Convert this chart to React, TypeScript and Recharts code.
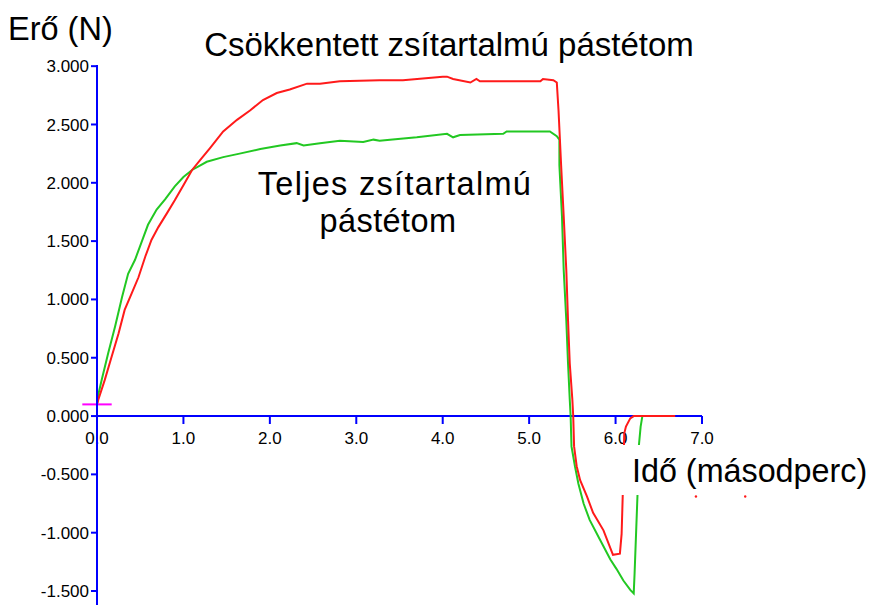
import React from "react";
import { LineChart, Line, XAxis, YAxis, ReferenceLine, ReferenceDot } from "recharts";

// Csökkentett zsítartalmú pástétom (red)
const redTimes = [0.0, 0.015, 0.09, 0.17, 0.25, 0.32, 0.4, 0.48, 0.56, 0.63, 0.71, 0.81, 0.9, 1.0, 1.1, 1.2, 1.31, 1.46, 1.62, 1.77, 1.92, 2.08, 2.23, 2.43, 2.58, 2.81, 3.27, 3.54, 4.0, 4.05, 4.12, 4.32, 4.39, 4.43, 5.13, 5.16, 5.28, 5.32, 5.34, 5.37, 5.4, 5.43, 5.45, 5.47, 5.5, 5.51, 5.52, 5.55, 5.59, 5.67, 5.74, 5.86, 5.97, 6.05, 6.07, 6.09, 6.1, 6.12, 6.17, 6.21, 6.69];
const redValues = [0.1, 0.14, 0.31, 0.51, 0.71, 0.91, 1.05, 1.19, 1.37, 1.51, 1.62, 1.74, 1.85, 1.98, 2.11, 2.2, 2.3, 2.44, 2.54, 2.62, 2.71, 2.77, 2.8, 2.85, 2.85, 2.87, 2.88, 2.88, 2.91, 2.91, 2.89, 2.86, 2.89, 2.87, 2.87, 2.89, 2.88, 2.86, 2.62, 2.15, 1.71, 1.25, 0.82, 0.45, 0.14, 0.0, -0.26, -0.43, -0.55, -0.69, -0.83, -0.98, -1.19, -1.18, -1.01, -0.5, -0.15, -0.09, -0.02, 0.0, 0.0];

// Teljes zsítartalmú pástétom (green)
const greenTimes = [0.0, 0.02, 0.054, 0.13, 0.21, 0.29, 0.36, 0.44, 0.52, 0.59, 0.69, 0.79, 0.9, 1.0, 1.1, 1.27, 1.46, 1.65, 1.89, 2.12, 2.31, 2.39, 2.58, 2.81, 3.08, 3.2, 3.27, 3.39, 3.7, 4.05, 4.12, 4.2, 4.7, 4.74, 5.24, 5.32, 5.35, 5.35, 5.38, 5.4, 5.43, 5.45, 5.47, 5.48, 5.49, 5.53, 5.57, 5.63, 5.7, 5.82, 5.94, 6.01, 6.09, 6.17, 6.21, 6.22, 6.24, 6.26, 6.27, 6.29, 6.31];
const greenValues = [0.1, 0.2, 0.31, 0.54, 0.77, 1.02, 1.22, 1.34, 1.5, 1.64, 1.77, 1.86, 1.97, 2.05, 2.11, 2.18, 2.22, 2.25, 2.29, 2.32, 2.34, 2.32, 2.34, 2.36, 2.35, 2.37, 2.36, 2.37, 2.39, 2.42, 2.39, 2.41, 2.42, 2.44, 2.44, 2.4, 2.37, 2.15, 1.71, 1.25, 0.82, 0.45, 0.14, 0.0, -0.26, -0.43, -0.58, -0.75, -0.89, -1.06, -1.23, -1.31, -1.41, -1.49, -1.52, -1.35, -0.95, -0.55, -0.25, -0.09, 0.0];

const yTicks = [-1.5, -1.0, -0.5, 0, 0.5, 1.0, 1.5, 2.0, 2.5, 3.0];
const xTicks = [0, 1, 2, 3, 4, 5, 6, 7];
const strayDotTimes = [6.93, 7.5];
const strayDotValues = [-0.69, -0.69];

const redData = redTimes.map((t, i) => ({ t, v: redValues[i] }));
const greenData = greenTimes.map((t, i) => ({ t, v: greenValues[i] }));

const FONT = '"Liberation Sans", Arial, sans-serif';
const BLUE = "#0000ff";
const RED = "#ff1a1a";
const GREEN = "#22c822";

const textStyle: React.CSSProperties = {
  position: "absolute",
  fontFamily: FONT,
  fontSize: 32.5,
  lineHeight: "32px",
  color: "#000",
  whiteSpace: "nowrap",
};

export default function App() {
  return (
    <div style={{ position: "absolute", left: 0, top: 0, width: 875, height: 609, background: "#fff", overflow: "hidden" }}>
      {/* x axis crossing at y = 0 */}
      <div style={{ position: "absolute", left: 0, top: 0 }}>
        <LineChart width={875} height={609} margin={{ top: 65, right: 173, bottom: 163, left: 97 }} data={redData}>
          <XAxis
            type="number"
            dataKey="t"
            domain={[0, 7]}
            ticks={xTicks}
            interval={0}
            height={30}
            allowDataOverflow
            tickFormatter={(v: number) => v.toFixed(1)}
            axisLine={{ stroke: BLUE, strokeWidth: 2 }}
            tickLine={{ stroke: BLUE, strokeWidth: 2 }}
            tickSize={8}
            tickMargin={8}
            tick={{ fill: "#000", fontSize: 17, fontFamily: FONT }}
          />
          <YAxis hide domain={[-1.62, 3.01]} type="number" />
        </LineChart>
      </div>
      <div style={{ position: "absolute", left: 0, top: 0 }}>
        <LineChart width={875} height={609} margin={{ top: 65, right: 173, bottom: 4, left: 0 }}>
          <XAxis type="number" dataKey="t" domain={[0, 7]} hide height={0} allowDataOverflow />
          <YAxis
            type="number"
            domain={[-1.62, 3.01]}
            ticks={yTicks}
            interval={0}
            width={97}
            allowDataOverflow
            tickFormatter={(v: number) => v.toFixed(3)}
            axisLine={{ stroke: BLUE, strokeWidth: 2 }}
            tickLine={{ stroke: BLUE, strokeWidth: 2 }}
            tickSize={6}
            tickMargin={2}
            tick={{ fill: "#000", fontSize: 17, fontFamily: FONT }}
          />
          <ReferenceLine segment={[{ x: 0, y: 0.24 }, { x: 0, y: -0.12 }]} stroke="#00c8c8" strokeWidth={2} ifOverflow="visible" />
          <Line data={greenData} dataKey="v" type="linear" stroke={GREEN} strokeWidth={2} dot={false} isAnimationActive={false} />
          <Line data={redData} dataKey="v" type="linear" stroke={RED} strokeWidth={2} dot={false} isAnimationActive={false} />
          <ReferenceLine segment={[{ x: -0.17, y: 0.1 }, { x: 0.17, y: 0.1 }]} stroke="#ff00ff" strokeWidth={2} ifOverflow="visible" />
          {strayDotTimes.map((t, i) => (
            <ReferenceDot key={i} x={t} y={strayDotValues[i]} r={1.2} fill={RED} stroke="none" ifOverflow="visible" />
          ))}
        </LineChart>
      </div>
      <div style={{ ...textStyle, left: 8, top: 13 }}>Erő (N)</div>
      <div style={{ ...textStyle, fontSize: 33, left: 0, width: 898, textAlign: "center", top: 29 }}>Csökkentett zsítartalmú pástétom</div>
      <div style={{ ...textStyle, lineHeight: "37px", letterSpacing: 1.3, left: 0, width: 790, textAlign: "center", top: 166 }}>
        Teljes zsítartalmú
      </div>
      <div style={{ ...textStyle, lineHeight: "37px", letterSpacing: 0.4, left: 0, width: 776, textAlign: "center", top: 203 }}>
        pástétom
      </div>
      <div style={{ position: "absolute", left: 621, top: 445, width: 254, height: 50, background: "#fff" }} />
      <div style={{ ...textStyle, fontSize: 32.3, left: 632, top: 455 }}>Idő (másodperc)</div>
    </div>
  );
}
